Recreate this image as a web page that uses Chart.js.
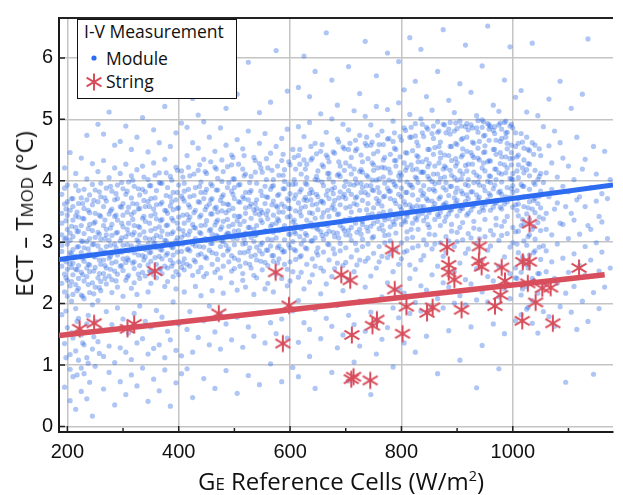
<!DOCTYPE html>
<html>
<head>
<meta charset="utf-8">
<script src="https://cdn.jsdelivr.net/npm/chart.js@4.4.1/dist/chart.umd.min.js"></script>
<style>
  body { margin: 0; background: #fff; }
  #wrap { position: relative; width: 623px; height: 495px; overflow: hidden; }
  #c { position: absolute; left: 0; top: 0; }
  .ttl { position: absolute; font-family: 'Open Sans', sans-serif; font-size: 24px; color: #111; white-space: nowrap; line-height: 1; }
  .sc { font-size: 70%; }
  #xt { left: 341px; top: 481px; transform: translate(-50%, -50%); }
  #yt { left: 24px; top: 214px; transform: translate(-50%, -50%) rotate(-90deg); }
  #leg { position: absolute; left: 77px; top: 19px; width: 160px; height: 80px; box-sizing: border-box;
         border: 1.5px solid #111; background: #fff; font-family: 'Open Sans', sans-serif; font-size: 17.5px; color: #111; }
  #leg span { position: absolute; line-height: 1; white-space: nowrap; }
  #leg svg { position: absolute; }
</style>
</head>
<body>
<div id="wrap">
  <canvas id="c" width="623" height="495"></canvas>
  <div class="ttl" id="xt">G<span class="sc">E</span> Reference Cells (W/m<sup style="font-size:60%">2</sup>)</div>
  <div class="ttl" id="yt">ECT – T<span class="sc">MOD</span> (°C)</div>
  <div id="leg">
    <span style="left:6px; top:3px">I-V Measurement</span>
    <svg style="left:13px; top:35px" width="6" height="6"><circle cx="3" cy="3" r="2.6" fill="#2d6cf0"/></svg>
    <span style="left:28px; top:30px">Module</span>
    <svg style="left:7px; top:53px" width="18" height="18">
      <g stroke="#d84e5c" stroke-width="2"><line x1="9" y1="0.5" x2="9" y2="17.5"/><line x1="1.6" y1="4.7" x2="16.4" y2="13.3"/><line x1="1.6" y1="13.3" x2="16.4" y2="4.7"/></g>
    </svg>
    <span style="left:28px; top:53px">String</span>
  </div>
</div>
<script>
// --- datos ---
const xTicks = [200, 400, 600, 800, 1000];
const xMinor = [300, 500, 700, 900, 1100];
const yTicks = [0, 1, 2, 3, 4, 5, 6];

// irradiancia (W/m2) de cada columna de puntos "Module"
const moduleG = [190, 195, 200, 205, 210, 215, 220, 225, 230, 235, 240, 245, 250, 255,
  260, 265, 270, 275, 280, 285, 290, 295, 300, 305, 310, 315, 320, 325, 330, 335, 340, 345,
  350, 355, 360, 365, 370, 375, 380, 385, 390, 395, 400, 405,
  410, 415, 420, 425, 430, 435, 440, 445, 450, 455, 460, 465, 470, 475, 480, 485, 490, 495,
  500, 505, 510, 515, 520, 525, 530, 535, 540, 545, 550, 555, 560, 565, 570, 575, 580, 585, 590, 595, 600, 605,
  610, 615, 620, 625, 630, 635, 640, 645, 650, 655, 660, 665, 670, 675, 680, 685, 690, 695,
  700, 705, 710, 715, 720, 725, 730, 735, 740, 745, 750, 755, 760, 765, 770, 775, 780, 785, 790, 795, 800, 805,
  810, 815, 820, 825, 830, 835, 840, 845, 850, 855, 860, 865, 870, 875, 880, 885, 890, 895,
  900, 905, 910, 915, 920, 925, 930, 935, 940, 945, 950, 955, 960, 965, 970, 975, 980, 985, 990, 995, 1000, 1005,
  1010, 1015, 1020, 1025, 1030, 1035, 1040, 1045, 1050, 1055,
  1060, 1065, 1070, 1075, 1080, 1085, 1090, 1095, 1100, 1105, 1110, 1115, 1120, 1125,
  1130, 1135, 1140, 1145, 1150, 1155, 1160, 1165, 1170, 1175];

// ECT - Tmod (°C) de cada columna
const moduleDT = [
  [2.61,3.12,2.85,3.47,2.33,3.78,2.95,1.82,3.31], [2.72,0.64,3.05,2.48,4.21,3.62,1.35,2.19,3.88],
  [2.74,3.21,2.56,3.93,2.38,3.44,1.61,2.97,3.66,2.12], [0.42,3.15,2.83,4.46,1.17,3.52,2.65,3.03,2.29,0.93],
  [3.36,2.47,3.71,2.88,2.15,3.09,1.44,3.58,2.66,0.81], [3.92,2.31,1.92,3.24,4.12,2.77,0.28,3.43,2.56,1.23],
  [2.93,3.63,2.41,3.18,1.76,2.62,3.84,1.08,2.25,3.41], [0.57,2.83,3.02,4.37,1.49,3.27,2.51,3.72,0.95,2.14],
  [3.14,2.69,3.55,2.37,1.33,3.86,2.91,0.86,2.08,3.38], [1.67,4.03,2.58,3.01,1.12,3.69,2.44,4.74,2.79,0.45],
  [2.52,3.29,3.77,2.81,1.54,2.18,3.48,0.72,3.06,2.63], [1.98,3.94,2.34,3.61,1.26,4.28,2.96,0.17,3.19],
  [3.47,2.76,3.08,2.27,3.85,1.71,2.59,3.33,0.98], [2.94,4.15,1.38,3.66,2.42,3.16,4.92,2.05],
  [2.87,3.42,2.36,3.74,3.05,2.64,1.58,3.96,2.21], [3.27,1.14,4.33,2.71,3.58,0.61,2.49,4.76],
  [3.21,2.58,3.67,2.93,2.32,3.88,1.87,3.12], [2.74,1.31,4.05,3.46,2.45,0.88,3.03,5.12],
  [2.66,3.54,3.11,2.39,3.83,2.82,1.66,3.29,2.18], [4.21,1.04,3.69,2.97,3.42,0.35,2.53,4.58],
  [3.36,2.79,3.93,2.48,3.16,2.27,1.93,3.71], [2.61,1.28,4.12,3.02,2.86,0.73,3.58,4.64],
  [2.95,3.63,2.54,3.25,2.12,3.87,1.75,2.73,3.44], [1.21,4.27,3.09,2.38,0.52,3.78,4.89,2.67],
  [3.31,2.71,3.98,2.46,3.14,2.86,1.52,3.57], [2.25,4.08,1.09,3.72,2.94,0.84,3.45,4.51],
  [2.83,3.49,3.16,2.57,3.91,2.34,1.84,3.27,2.68], [4.18,1.36,3.62,3.04,0.66,2.92,4.71,2.15],
  [3.24,2.62,3.77,2.94,2.41,3.55,1.96,3.12], [2.78,1.43,4.24,3.39,2.51,0.95,3.86,5.03],
  [2.76,3.58,3.07,2.45,3.82,2.88,1.71,3.34], [2.19,4.02,1.18,3.66,2.97,0.41,2.63,4.47],
  [3.43,2.69,3.92,2.52,3.19,2.33,1.62,3.71,2.84], [4.29,1.27,3.06,2.47,0.77,3.54,4.83,2.98],
  [2.91,3.38,3.84,2.64,3.11,2.42,1.89,3.61], [2.77,4.13,1.33,3.25,2.56,0.58,3.97,4.62],
  [3.18,2.73,3.65,2.49,3.96,2.87,1.78,3.37], [2.28,4.35,1.12,3.52,3.03,0.92,2.61,5.21],
  [2.82,3.47,3.13,2.58,3.89,2.36,1.55,3.28], [2.71,4.07,1.41,3.74,2.95,0.33,3.59,4.56],
  [3.35,2.66,3.81,2.91,2.44,3.53,2.03,3.17,2.79], [4.22,1.24,3.69,2.52,0.71,3.02,4.78,2.24],
  [2.97,3.56,3.22,2.68,3.93,2.47,1.67,3.41], [2.85,4.16,1.15,3.75,3.08,0.86,2.59,4.94],
  [3.12,2.73,3.67,2.55,3.96,3.31,2.19,3.83], [2.88,4.41,1.58,3.45,0.94,4.87,2.64],
  [3.41,2.86,3.74,2.61,4.08,3.18,1.87,3.57], [2.97,4.62,1.21,3.29,2.46,5.34,0.47],
  [2.94,3.52,3.23,2.68,3.89,3.06,2.28], [4.17,2.79,4.53,1.45,3.66,2.52,5.07],
  [3.27,2.81,3.81,2.59,3.44,3.98,2.13,3.14], [2.92,4.35,1.72,3.71,0.78,4.96,2.44],
  [3.58,3.03,2.74,3.86,2.49,4.12,3.35], [1.96,3.19,2.87,4.71,1.33,3.62,5.62],
  [2.83,3.46,3.13,3.92,2.64,3.71,2.98,2.21], [4.22,3.28,4.48,1.54,0.62,3.55,2.51],
  [3.36,2.72,3.85,3.09,2.56,4.04,3.49], [1.83,3.21,2.93,4.86,1.26,3.68,2.42],
  [3.01,3.63,2.79,3.34,4.15,2.61,3.77,2.17], [3.12,2.95,4.58,1.67,3.48,0.91,5.18],
  [3.52,2.89,3.26,3.97,2.68,3.61,3.14], [2.34,4.26,2.78,4.42,1.41,3.83,2.53],
  [2.96,3.43,3.71,2.74,4.03,3.18,2.57,3.89], [2.22,3.35,4.67,1.78,0.54,3.06,5.41],
  [3.29,2.83,3.65,3.94,2.61,3.42,3.11], [2.38,4.19,2.97,4.52,1.29,3.74,2.49],
  [3.47,2.98,3.81,3.15,2.66,4.11,3.56,2.27], [3.24,2.85,4.81,1.62,3.69,0.83,5.93],
  [3.08,3.62,2.77,3.39,4.07,2.58,3.84], [2.15,3.21,3.01,4.38,1.47,3.53,2.46],
  [3.55,2.92,3.27,3.96,2.71,3.69,3.13,2.42], [4.28,2.86,4.61,1.85,3.45,0.68,5.11],
  [2.99,3.48,3.76,2.81,4.14,3.32,2.55], [3.91,2.24,3.18,4.77,1.36,3.63,2.67],
  [3.38,2.87,3.73,3.05,2.62,4.21,3.51,2.33], [3.26,2.94,4.45,1.69,3.86,1.02,5.28],
  [3.16,3.67,2.78,3.44,4.02,2.69,3.92,2.19], [3.31,3.07,4.56,1.51,3.59,2.48,6.12],
  [3.49,2.94,3.35,4.09,2.73,3.78,3.19], [2.41,4.33,2.88,4.69,1.75,3.62,0.73],
  [3.04,3.58,3.87,2.85,4.18,3.27,2.64,3.99], [2.29,3.41,4.84,1.44,3.71,2.56,5.46],
  [3.42,2.91,3.79,3.13,2.68,4.26,3.55,2.37], [3.33,3.01,4.51,1.88,3.94,0.96,2.52],
  [3.28,3.77,2.86,3.51,4.19,2.72,3.95,3.14], [2.43,4.41,2.05,3.64,4.88,1.37,5.52,0.81],
  [3.56,2.97,3.43,4.11,2.78,3.86,3.22,2.51], [4.34,3.03,4.72,1.69,3.69,2.24,6.03],
  [3.11,3.68,3.94,2.89,4.27,3.36,2.64,4.05], [2.35,3.48,4.95,1.58,3.79,1.14,5.37],
  [3.47,3.02,3.81,3.25,2.73,4.37,3.61,2.47], [3.39,3.07,4.61,1.91,4.02,0.62,5.78,2.61],
  [3.21,3.74,2.91,3.53,4.16,2.79,4.01], [3.17,2.58,4.48,2.16,3.66,5.09,1.43],
  [3.64,3.05,3.48,4.23,2.84,3.92,3.29,2.53], [4.42,3.13,4.79,1.76,3.77,2.32,6.41],
  [3.18,3.71,4.04,2.96,4.31,3.42,2.71,4.12], [2.44,3.56,5.01,1.63,3.86,0.88,5.64],
  [3.53,3.09,3.89,3.32,2.81,4.45,3.68,2.57], [3.45,3.15,4.68,1.97,4.09,1.28,5.23,2.66],
  [3.27,3.82,2.98,3.61,4.24,2.86,4.07], [3.23,2.62,4.55,2.21,3.74,4.92,1.49],
  [3.71,3.12,3.56,4.29,2.91,3.99,3.36,2.67], [4.51,3.19,4.83,1.81,3.84,2.39,5.86,0.74],
  [3.24,3.78,4.11,3.03,4.38,3.49,2.76], [4.19,2.52,3.63,5.14,1.66,3.93,1.05],
  [3.61,3.16,3.96,3.39,2.87,4.52,3.74,2.63], [3.52,3.21,4.74,2.04,4.15,1.31,5.42,2.71],
  [3.34,3.89,3.05,3.68,4.31,2.93,4.14,3.29], [2.69,4.61,2.27,3.81,5.05,1.55,6.27],
  [3.77,3.18,3.63,4.36,2.97,4.06,3.44,2.74], [4.58,3.26,4.91,1.86,3.92,2.45,0.52],
  [3.31,3.84,4.17,3.09,4.44,3.56,2.82,4.26], [2.58,3.71,5.21,1.72,4.01,1.18,5.71],
  [3.67,3.22,4.03,3.46,2.93,4.59,3.81,2.68], [3.59,3.28,4.81,2.11,4.22,1.42,2.77],
  [3.41,3.96,3.11,3.75,4.38,2.99,4.21,3.36], [2.75,4.68,2.34,3.88,5.16,1.61,6.08],
  [3.83,3.25,3.71,4.43,3.02,4.13,3.51,2.81], [4.64,3.33,4.97,1.93,3.99,2.52,0.97],
  [3.38,3.91,4.24,3.15,4.51,3.63,2.88,4.33], [2.64,3.78,5.27,1.77,4.08,2.23,5.94],
  [3.74,3.29,4.09,3.53,2.99,4.66,3.88,2.73], [3.66,3.35,4.86,2.17,4.29,1.36,2.84,5.48],
  [3.46,3.98,3.17,3.81,4.45,3.06,4.22,3.42,2.86], [4.71,2.41,3.93,5.08,1.84,6.33,3.61,2.63],
  [3.89,3.31,3.77,4.49,3.08,4.18,3.57,2.91], [4.73,3.39,4.93,2.02,4.06,2.56,5.62,1.21],
  [3.43,3.97,4.31,3.21,4.57,3.69,2.94,4.39], [2.71,3.84,5.01,1.88,4.14,2.29,3.58,6.14],
  [3.79,3.35,4.14,3.58,3.04,4.72,3.92,2.78], [3.71,3.41,4.87,2.22,4.35,1.47,2.96,5.37],
  [3.52,4.03,3.24,3.86,4.51,3.13,4.28,3.48], [2.89,4.77,2.47,3.99,5.15,1.96,3.67],
  [3.95,3.37,3.83,4.54,3.12,4.24,3.63,2.97], [4.79,3.45,4.96,2.08,4.11,2.61,5.78,0.86],
  [3.49,4.04,4.37,3.27,4.63,3.74,2.99,4.46], [2.77,3.89,4.92,1.93,4.19,2.34,3.61,6.46],
  [3.85,3.41,4.21,3.64,3.09,4.78,3.97,2.84], [3.76,3.46,4.84,2.27,4.41,1.56,3.02,5.31],
  [3.58,4.09,3.29,3.91,4.56,3.18,4.33,3.53], [2.93,4.81,2.52,4.05,5.11,2.01,3.72],
  [4.01,3.43,3.88,4.59,3.16,4.29,3.68,3.01,4.85], [3.51,4.97,2.13,4.16,2.66,5.58,1.08,3.24],
  [3.55,4.11,4.42,3.32,4.69,3.79,3.04,4.52], [2.82,3.94,4.88,1.98,4.25,2.39,3.66,6.21],
  [3.92,3.47,4.27,3.71,3.14,4.83,4.02,2.89], [3.82,3.52,4.91,2.32,4.46,1.62,3.07,5.44],
  [3.63,4.14,3.34,3.97,4.61,3.23,4.38,3.59], [2.98,4.86,2.57,4.09,5.06,2.06,3.77,0.63],
  [4.06,3.49,3.93,4.64,3.21,4.34,3.73,3.06], [4.87,3.56,4.99,2.19,4.21,2.71,5.87,1.32],
  [3.61,4.16,4.47,3.37,4.74,3.84,3.09,4.57], [2.87,3.99,4.93,2.03,4.31,2.44,3.69,6.52],
  [3.97,3.52,4.32,3.76,3.19,4.88,4.07,2.94], [3.87,3.57,4.82,2.37,4.51,1.67,3.12,5.23],
  [3.68,4.19,3.39,4.02,4.66,3.28,4.43,3.64], [3.03,4.91,2.61,4.13,5.13,2.11,3.81,0.94],
  [4.11,3.54,3.98,4.69,3.26,4.39,3.78,3.11,4.84], [3.62,4.95,2.24,4.26,2.76,5.64,1.51,3.34],
  [3.66,4.21,4.52,3.42,4.79,3.89,3.14,4.61], [2.92,4.04,4.89,2.08,4.36,2.49,3.73,6.18],
  [4.02,3.57,4.37,3.81,3.24,4.86,4.12,2.99,3.92], [3.61,4.78,2.42,4.56,1.72,3.17,5.36,2.58],
  [3.71,4.26,3.43,4.05,4.61,3.18,4.42,3.62,2.83], [4.77,2.51,3.94,2.14,1.82,3.27,5.47,2.69],
  [4.13,3.58,3.91,4.53,3.29,4.34,3.74,3.02], [4.71,2.64,3.46,2.28,4.18,1.91,2.95,5.12],
  [3.66,4.08,3.37,3.86,4.49,3.12,4.27,2.79], [2.41,3.54,2.05,4.62,1.68,3.21,6.24],
  [3.94,3.48,4.17,3.71,3.05,4.58,2.86], [3.32,2.49,4.02,2.17,3.63,1.52,5.06],
  [3.56,4.12,3.19,3.83,2.72,4.41], [3.38,2.31,3.97,1.87,4.88,2.94],
  [3.47,2.86,4.13,3.21,2.52], [4.57,1.79,3.74,5.33],
  [3.12,3.86,2.68,4.29], [2.41,3.54,1.63,4.81],
  [3.64,2.97,4.06,2.33], [3.31,4.62,1.95,5.62],
  [3.29,3.91,2.74,4.37], [2.17,3.58,0.72],
  [3.82,3.06,2.51,4.24], [3.47,1.86,5.18],
  [3.36,2.81,4.02,2.28], [3.69,4.71,1.58],
  [3.13,3.74,2.62], [4.19,2.04,5.41],
  [3.58,2.93,4.35,2.46], [3.27,1.71,6.31],
  [3.21,2.71,3.89], [4.56,2.18,0.85],
  [3.67,2.99,4.11], [2.53,3.42,1.92],
  [3.33,2.84,3.79], [4.48,2.27],
  [3.06,3.71], [2.58,4.02]
];

// columnas extra en el nucleo denso de la nube "Module"
const moduleCoreG = [197.5, 207.5, 217.5, 227.5, 237.5, 247.5, 257.5, 267.5, 277.5, 287.5, 297.5,
  307.5, 317.5, 327.5, 337.5, 347.5, 357.5, 367.5, 377.5, 387.5, 397.5,
  407.5, 417.5, 427.5, 437.5, 447.5, 457.5, 467.5, 477.5, 487.5, 497.5,
  507.5, 517.5, 527.5, 537.5, 547.5, 557.5, 567.5, 577.5, 587.5, 597.5,
  607.5, 617.5, 627.5, 637.5, 647.5, 657.5, 667.5, 677.5, 687.5, 697.5,
  707.5, 717.5, 727.5, 737.5, 747.5, 757.5, 767.5, 777.5, 787.5, 797.5,
  807.5, 817.5, 827.5, 837.5, 847.5, 857.5, 867.5, 877.5, 887.5, 897.5,
  907.5, 917.5, 927.5, 937.5, 947.5, 957.5, 967.5, 977.5, 987.5, 997.5,
  1007.5, 1017.5, 1027.5, 1037.5, 1047.5];
const moduleCoreDT = [
  [2.42,3.07,2.68,3.35,1.88,3.54,1.12], [2.81,2.36,3.26,2.59,3.71,2.04,1.53], [2.55,3.17,2.92,3.49,2.21,1.71,0.84],
  [3.01,2.47,3.39,2.74,3.63,2.12,1.36], [2.64,3.22,2.89,3.52,2.31,1.81,1.03], [2.97,2.53,3.31,2.77,3.68,2.16,1.46],
  [2.71,3.13,2.49,3.44,3.82,2.26,1.19], [3.06,2.62,3.36,2.84,3.72,2.41], [2.77,3.23,2.56,3.51,3.91,2.95],
  [3.15,2.68,3.44,2.91,3.79,2.37], [2.84,3.31,2.62,3.57,3.97,3.07], [3.21,2.74,3.49,2.96,3.83,2.43],
  [2.89,3.37,2.66,3.63,4.01,3.12], [3.26,2.79,3.54,3.01,3.87,2.48], [2.93,3.42,2.71,3.68,4.06,3.17],
  [3.31,2.83,3.58,3.05,3.92,2.53], [2.98,3.46,2.75,3.72,4.09,3.22], [3.35,2.88,3.62,3.09,3.96,2.57],
  [3.02,3.51,2.79,3.76,4.13,3.27], [3.39,2.92,3.66,3.14,4.01,2.61], [3.07,3.55,2.84,3.81,4.17,3.31],
  [3.44,2.97,3.71,3.19,4.06,2.66], [3.12,3.61,2.89,3.86,4.22,3.36], [3.48,3.02,3.76,3.24,4.11,2.71],
  [3.16,3.65,2.93,3.91,4.26,3.41], [3.53,3.06,3.81,3.28,4.15,2.76], [3.21,3.69,2.98,3.95,4.31,3.46],
  [3.57,3.11,3.85,3.33,4.19,2.81], [3.25,3.74,3.02,3.99,4.34,3.51], [3.62,3.15,3.89,3.37,4.23,2.86],
  [3.29,3.78,3.06,4.03,4.38,3.55], [3.66,3.19,3.93,2.71,4.27,3.42], [3.34,2.83,3.71,4.08,3.05,4.41],
  [2.91,3.58,3.24,3.97,2.64,3.81], [3.47,4.14,2.79,3.63,3.11,4.33], [3.83,2.96,3.36,4.21,2.69,3.52],
  [3.18,3.74,4.02,2.87,3.45,4.36], [2.78,3.61,3.29,4.17,3.91,3.04], [3.57,2.91,4.24,3.38,3.76,2.66],
  [3.22,3.87,2.84,4.09,3.49,4.43], [3.68,3.13,4.31,2.96,3.55,3.94],
  [3.36,4.02,2.88,3.71,4.38,3.17], [3.82,3.09,4.27,3.49,2.76,4.51], [3.14,3.96,3.58,4.19,2.91,3.73],
  [3.69,4.34,3.02,3.86,3.31,4.56], [4.07,3.23,3.62,4.44,2.84,3.78], [3.41,3.98,4.26,3.11,3.67,4.59],
  [2.97,3.84,3.52,4.38,4.12,3.27], [3.79,3.16,4.47,3.61,3.98,2.89], [3.46,4.11,3.07,4.31,3.72,4.63],
  [3.91,3.36,4.52,3.19,3.78,4.17], [3.58,4.24,3.11,3.94,4.61,3.39], [4.03,3.31,4.49,3.72,2.98,4.66],
  [3.37,4.18,3.81,4.42,3.13,3.96], [3.92,4.57,3.24,4.09,3.53,4.71], [4.29,3.46,3.85,4.63,3.07,4.01],
  [3.63,4.21,4.48,3.34,3.89,4.74], [3.19,4.06,3.74,4.59,4.34,3.49], [4.01,3.38,4.69,3.83,4.19,3.12],
  [3.68,4.33,3.29,4.53,3.94,4.78], [4.13,3.58,4.72,3.41,4.01,4.39],
  [3.81,4.46,3.33,4.17,4.82,3.61], [4.26,3.54,4.71,3.93,3.21,4.87], [3.59,4.41,4.04,4.63,3.36,4.19],
  [4.14,4.78,3.47,4.31,3.76,4.92], [4.51,3.68,4.07,4.84,3.29,4.23], [3.86,4.43,4.69,3.57,4.11,4.89],
  [3.42,4.29,3.97,4.81,4.56,3.71], [4.24,3.61,4.91,4.06,4.42,3.34], [3.91,4.56,3.52,4.76,4.17,4.95],
  [4.36,3.81,4.94,3.64,4.24,4.61], [4.03,4.67,3.56,4.39,4.89,3.83], [4.48,3.77,4.93,4.16,3.44,4.71],
  [3.82,4.63,4.27,4.86,3.59,4.41], [4.37,4.98,3.69,4.53,3.98,4.79], [4.73,3.91,4.29,4.96,3.52,4.46],
  [4.08,4.66,4.91,3.79,4.33,4.84], [3.64,4.51,4.19,4.88,4.77,3.93], [4.46,3.83,4.94,4.28,4.64,3.57],
  [4.13,4.78,3.74,4.97,4.39,4.71], [4.58,4.03,4.92,3.87,4.46,4.26],
  [3.84,4.39,2.97,4.16,3.52,2.41], [4.21,3.37,4.63,2.76,3.91,2.24], [3.56,4.28,3.09,4.51,2.58,1.94],
  [3.97,3.26,4.43,2.83,3.68,2.37], [3.41,4.07,2.92,3.75,2.49,4.52]
];

// medidas "String"
const stringG  = [222, 248, 308, 320, 357, 472, 574, 598, 587, 1030, 784, 882, 940, 692, 708, 885, 885, 895, 939, 944,
                  980, 986, 1018, 1030, 1119, 788, 809, 846, 856, 908, 968, 978, 1027, 1053, 1068, 1041, 1017, 1072,
                  711, 748, 756, 802, 710, 714, 744];
const stringDT = [1.59, 1.68, 1.59, 1.67, 2.53, 1.84, 2.51, 1.97, 1.35, 3.30, 2.88, 2.92, 2.93, 2.47, 2.38, 2.63, 2.51, 2.39, 2.69, 2.60,
                  2.59, 2.37, 2.68, 2.68, 2.58, 2.23, 1.95, 1.85, 1.94, 1.90, 1.96, 2.14, 2.33, 2.25, 2.26, 2.02, 1.72, 1.68,
                  1.49, 1.64, 1.74, 1.51, 0.77, 0.81, 0.75];

// rectas de ajuste (extremos)
const moduleFitG  = [185, 1180];
const moduleFitDT = [2.72, 3.93];
const stringFitG  = [185, 1165];
const stringFitDT = [1.48, 2.47];

const BLUE = '#2d6cf0';
const RED  = '#d84e5c';

// --- armar puntos ---
const modulePts = [];
moduleG.forEach((g, i) => moduleDT[i].forEach(t => modulePts.push({ x: g, y: t })));
moduleCoreG.forEach((g, i) => moduleCoreDT[i].forEach(t => modulePts.push({ x: g, y: t })));
const stringPts = stringG.map((g, i) => ({ x: g, y: stringDT[i] }));
const moduleFit = moduleFitG.map((g, i) => ({ x: g, y: moduleFitDT[i] }));
const stringFit = stringFitG.map((g, i) => ({ x: g, y: stringFitDT[i] }));

// asterisco de 6 brazos para la serie String
function makeStar(color) {
    const cv = document.createElement('canvas');
    cv.width = 20; cv.height = 20;
    const ctx = cv.getContext('2d');
    ctx.strokeStyle = color;
    ctx.lineWidth = 2;
    const r = 8.6;
    [90, 30, 150].forEach(a => {
        const rad = a * Math.PI / 180;
        ctx.beginPath();
        ctx.moveTo(10 - r * Math.cos(rad), 10 - r * Math.sin(rad));
        ctx.lineTo(10 + r * Math.cos(rad), 10 + r * Math.sin(rad));
        ctx.stroke();
    });
    return cv;
}

// marco superior y ticks hacia adentro
const frameTicks = {
    id: 'frameTicks',
    afterDraw(chart) {
        const { ctx, chartArea: a, scales: { x, y } } = chart;
        ctx.save();
        ctx.strokeStyle = '#222';
        ctx.lineWidth = 2;
        ctx.beginPath();
        ctx.moveTo(a.left, a.top);
        ctx.lineTo(a.right, a.top);
        ctx.stroke();
        ctx.lineWidth = 1.5;
        ctx.beginPath();
        xTicks.forEach(v => { const p = x.getPixelForValue(v); ctx.moveTo(p, a.bottom); ctx.lineTo(p, a.bottom - 6); });
        xMinor.forEach(v => { const p = x.getPixelForValue(v); ctx.moveTo(p, a.bottom); ctx.lineTo(p, a.bottom - 4); });
        yTicks.forEach(v => { const p = y.getPixelForValue(v); ctx.moveTo(a.left, p); ctx.lineTo(a.left + 6, p); });
        ctx.stroke();
        ctx.restore();
    }
};

const tickFont = { family: "'Liberation Sans', Arial, sans-serif", size: 20 };
const gridOpts = { color: '#c4c4c4', lineWidth: 1.5, drawTicks: false };
const borderOpts = { color: '#1a1a1a', width: 2 };

new Chart(document.getElementById('c'), {
    type: 'scatter',
    data: {
        datasets: [
            { label: 'String', data: stringPts, pointStyle: makeStar(RED), pointRadius: 9, order: 1 },
            { label: 'fitString', type: 'line', data: stringFit, borderColor: RED, borderWidth: 5.5, pointRadius: 0, order: 2 },
            { label: 'fitModule', type: 'line', data: moduleFit, borderColor: BLUE, borderWidth: 5, pointRadius: 0, order: 3 },
            { label: 'Module', data: modulePts, pointRadius: 2.6, borderWidth: 0,
              backgroundColor: 'rgba(34,98,226,0.36)', order: 4 }
        ]
    },
    options: {
        responsive: false,
        animation: false,
        devicePixelRatio: 1,
        events: [],
        layout: { padding: { top: 8, right: 0, left: 0, bottom: 0 } },
        plugins: { legend: { display: false }, tooltip: { enabled: false } },
        scales: {
            x: {
                type: 'linear', min: 185, max: 1180,
                afterBuildTicks: s => { s.ticks = xTicks.map(v => ({ value: v })); },
                afterFit: s => { s.height = 63; },
                ticks: { font: tickFont, color: '#111', padding: 8, maxRotation: 0, callback: v => String(v) },
                grid: gridOpts, border: borderOpts
            },
            y: {
                type: 'linear', min: -0.09, max: 6.65,
                afterBuildTicks: s => { s.ticks = yTicks.map(v => ({ value: v })); },
                afterFit: s => { s.width = 59; },
                ticks: { font: tickFont, color: '#111', padding: 6, callback: v => String(v) },
                grid: gridOpts, border: borderOpts
            }
        }
    },
    plugins: [frameTicks]
});
</script>
</body>
</html>
